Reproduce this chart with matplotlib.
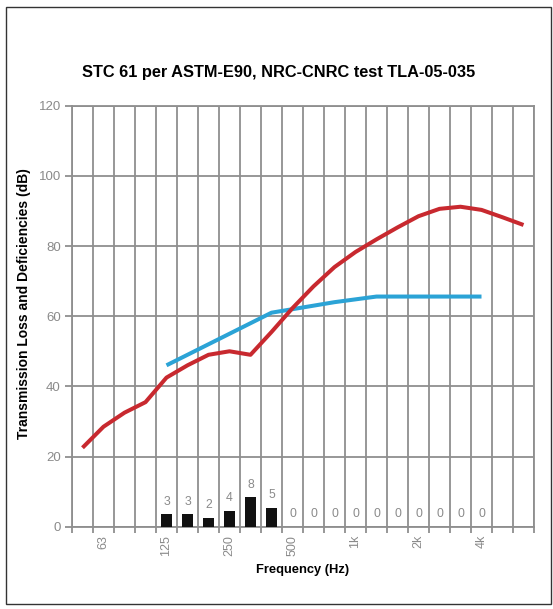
import matplotlib
matplotlib.use("Agg")
import matplotlib.pyplot as plt
from matplotlib.patches import Rectangle
import numpy as np

# ---- data ----
freq_labels = ["50", "63", "80", "100", "125", "160", "200", "250", "315", "400",
               "500", "630", "800", "1k", "1.25k", "1.6k", "2k", "2.5k", "3.15k",
               "4k", "5k", "6.3k"]
shown_ticks = ["63", "125", "250", "500", "1k", "2k", "4k"]

tl_values = [22.5, 28.5, 32.5, 35.5, 42.5, 46, 49, 50, 49, 55.5, 62.3, 68.5,
             74, 78.3, 81.9, 85.3, 88.5, 90.6, 91.2, 90.3, 88.2, 86]

contour_freqs = ["125", "160", "200", "250", "315", "400", "500", "630", "800",
                 "1k", "1.25k", "1.6k", "2k", "2.5k", "3.15k", "4k"]
contour_values = [46, 49, 52, 55, 58, 61, 62, 63, 64, 64.8, 65.6, 65.6, 65.6,
                  65.6, 65.6, 65.6]

def_values = [3.5, 3.5, 2.6, 4.6, 8.4, 5.4, 0, 0, 0, 0, 0, 0, 0, 0, 0, 0]
def_labels = ["3", "3", "2", "4", "8", "5", "0", "0", "0", "0", "0", "0", "0",
              "0", "0", "0"]

y_ticks = [0, 20, 40, 60, 80, 100, 120]

# ---- style ----
plt.rcParams['font.family'] = ['Liberation Sans', 'DejaVu Sans']
GRID = '#8f8f8f'
TXT_GRAY = '#8a8a8a'
RED = '#c8292f'
BLUE = '#2ba3d6'

W, H = 553, 609
fig = plt.figure(figsize=(W / 100, H / 100), dpi=100)
ax = fig.add_axes([72 / W, 1 - 526.7 / H, (534 - 72) / W, (526.7 - 105.7) / H])

idx = {f: i for i, f in enumerate(freq_labels)}
x_all = np.arange(len(freq_labels))
x_con = [idx[f] for f in contour_freqs]

# deficiency bars
ax.bar(x_con, def_values, width=0.48, color='#111111', zorder=3)
for xi, v, lab in zip(x_con, def_values, def_labels):
    ax.text(xi, v + 3.6, lab, ha='center', va='center', color=TXT_GRAY,
            fontsize=8.8, zorder=4)

ax.plot(x_all, tl_values, color=RED, lw=2.9, solid_capstyle='butt',
        solid_joinstyle='round', zorder=5)
ax.plot(x_con, contour_values, color=BLUE, lw=2.9, solid_capstyle='butt',
        solid_joinstyle='round', zorder=4)

ax.set_xlim(-0.5, len(freq_labels) - 0.5)
ax.set_ylim(0, 120)

# grid: boundaries between bands
ax.set_xticks(np.arange(-0.5, len(freq_labels), 1.0), minor=True)
ax.set_xticks([idx[f] for f in shown_ticks])
ax.set_xticklabels(shown_ticks, rotation=90, color=TXT_GRAY, fontsize=9)
ax.tick_params(axis='x', which='major', length=0, pad=6)
ax.tick_params(axis='x', which='minor', length=4, color=GRID, width=1.3)
ax.set_yticks(y_ticks)
ax.set_yticklabels([str(v) for v in y_ticks], color=TXT_GRAY, fontsize=9.5)
ax.tick_params(axis='y', length=5, color=GRID, width=1.3, pad=3)
ax.grid(True, which='minor', axis='x', color=GRID, lw=1.3, zorder=0)
ax.grid(True, which='major', axis='y', color=GRID, lw=1.3, zorder=0)
ax.grid(False, which='major', axis='x')
for s in ax.spines.values():
    s.set_color(GRID)
    s.set_linewidth(1.3)
ax.set_axisbelow(True)

ax.set_xlabel("Frequency (Hz)", fontsize=9.3, fontweight='bold', labelpad=6)
ax.set_ylabel("Transmission Loss and Deficiencies (dB)", fontsize=10,
              fontweight='bold')
ax.yaxis.set_label_coords(-0.088, 0.53)

fig.text(279 / W, 1 - 72 / H, "STC 61 per ASTM-E90, NRC-CNRC test TLA-05-035",
         ha='center', va='center', fontsize=11.8, fontweight='bold')

# outer frame
fig.patches.append(Rectangle((6 / W, 1 - 604 / H), (551 - 6) / W, (604 - 7) / H,
                             transform=fig.transFigure, fill=False,
                             edgecolor='#333333', lw=1.0))

fig.savefig("out.png", dpi=100)
